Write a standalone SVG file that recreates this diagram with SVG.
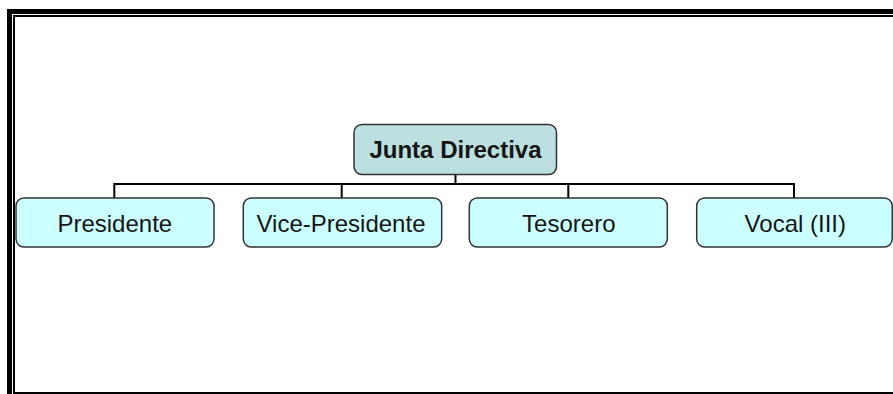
<svg xmlns="http://www.w3.org/2000/svg" width="893" height="394" viewBox="0 0 893 394">
<style>
.frame{fill:none;stroke:#000}
.box{stroke:#333;stroke-width:1.5}
.root{fill:#bcdfe0}
.child{fill:#ccffff}
.lbl{font-family:"Liberation Sans",Arial,sans-serif;font-size:24px;fill:#151515;text-anchor:middle}
.bold{font-weight:bold}
.conn{fill:none;stroke:#000;stroke-width:2}
</style>
<rect x="0" y="0" width="893" height="394" fill="#fff"/>
<rect class="frame" x="9.5" y="11.5" width="900" height="400" stroke-width="5"/>
<rect class="frame" x="14" y="16" width="900" height="377" stroke-width="2"/>
<g id="connectors">
<path class="conn" d="M455.5 174 V184 M114.3 198 V184 H794 V198 M341.7 184 V198 M568.3 184 V198"/>
</g>
<g id="junta">
<rect class="box root" x="354" y="124.5" width="202.5" height="50" rx="8"/>
<text class="lbl bold" x="455.5" y="158.3">Junta Directiva</text>
</g>
<g id="presidente">
<rect class="box child" x="16" y="198" width="198" height="49" rx="8"/>
<text class="lbl" x="114.8" y="231.5">Presidente</text>
</g>
<g id="vicepresidente">
<rect class="box child" x="243.3" y="198" width="198.4" height="49" rx="8"/>
<text class="lbl" x="341" y="231.5">Vice-Presidente</text>
</g>
<g id="tesorero">
<rect class="box child" x="469.3" y="198" width="198" height="49" rx="8"/>
<text class="lbl" x="568.8" y="231.5">Tesorero</text>
</g>
<g id="vocal">
<rect class="box child" x="696.7" y="198" width="195.5" height="49" rx="8"/>
<text class="lbl" x="795.3" y="231.5">Vocal (III)</text>
</g>
</svg>
